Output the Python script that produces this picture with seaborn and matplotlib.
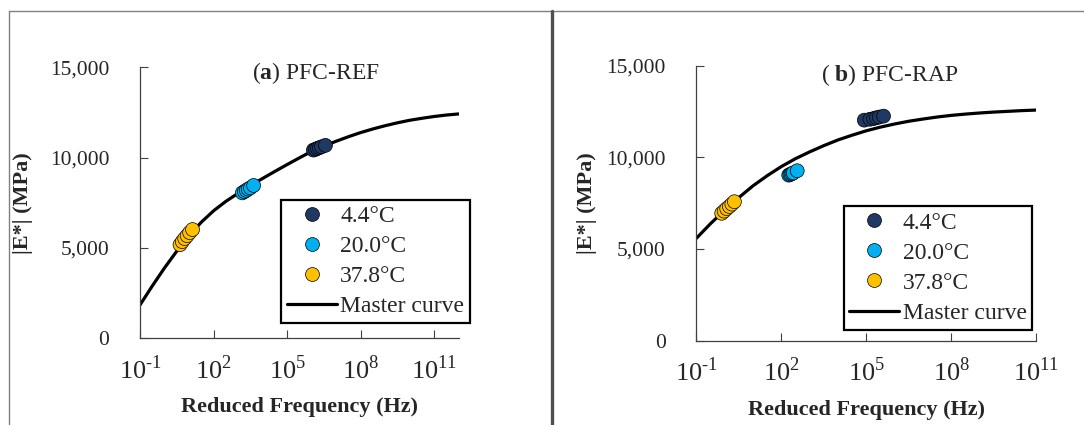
import numpy as np
import pandas as pd
import seaborn as sns
import matplotlib.pyplot as plt
from matplotlib.lines import Line2D

# data
temps = ["4.4°C", "20.0°C", "37.8°C"]
colors = ["#1F3864", "#00B0F0", "#FFC000"]

# (a) PFC-REF
a_freq_44 = [1.17e6, 1.41e6, 1.70e6, 2.04e6, 2.51e6, 3.63e6]
a_mod_44 = [10420, 10460, 10510, 10550, 10600, 10680]
a_freq_20 = [1480, 1780, 2140, 2570, 3160, 4270]
a_mod_20 = [8050, 8120, 8190, 8260, 8330, 8460]
a_freq_378 = [4.27, 5.25, 6.6, 8.3, 10.5, 13.8]
a_mod_378 = [5180, 5350, 5520, 5680, 5850, 6020]
a_curve_freq = [1e-1, 3.16e-1, 1e0, 3.16e0, 1e1, 3.16e1, 1e2, 3.16e2, 1e3, 3.16e3, 1e4, 3.16e4,
                1e5, 3.16e5, 1e6, 3.16e6, 1e7, 3.16e7, 1e8, 3.16e8, 1e9, 3.16e9, 1e10, 3.16e10,
                1e11, 3.16e11, 1e12]
a_curve_mod = [1850, 2900, 3900, 4830, 5680, 6430, 7060, 7580, 8030, 8450, 8850, 9240,
               9620, 9990, 10350, 10640, 10910, 11160, 11390, 11590, 11770, 11930, 12070, 12180,
               12280, 12360, 12420]

# (b) PFC-RAP
b_freq_44 = [8.5e4, 1.35e5, 1.82e5, 2.29e5, 2.88e5, 4.07e5]
b_mod_44 = [12030, 12080, 12120, 12160, 12200, 12250]
b_freq_20 = [182, 200, 219, 240, 263, 363]
b_mod_20 = [9030, 9060, 9090, 9120, 9150, 9270]
b_freq_378 = [0.78, 0.95, 1.17, 1.45, 1.78, 2.19]
b_mod_378 = [6950, 7070, 7200, 7320, 7450, 7580]
b_curve_freq = [1e-1, 3.16e-1, 1e0, 3.16e0, 1e1, 3.16e1, 1e2, 3.16e2, 1e3, 3.16e3, 1e4, 3.16e4,
                1e5, 3.16e5, 1e6, 3.16e6, 1e7, 3.16e7, 1e8, 3.16e8, 1e9, 3.16e9, 1e10, 3.16e10,
                1e11]
b_curve_mod = [5590, 6390, 7120, 7810, 8450, 9000, 9500, 9930, 10300, 10640, 10950, 11210,
               11450, 11650, 11820, 11970, 12090, 12200, 12290, 12360, 12420, 12470, 12510, 12550,
               12580]

xticks = [1e-1, 1e2, 1e5, 1e8, 1e11]
xticklabels = [r"10$^{\text{-}1}$", "10$^{2}$", "10$^{5}$", "10$^{8}$", "10$^{11}$"]
yticks = [0, 5000, 10000, 15000]
yticklabels = ["0", "5,000", "10,000", "15,000"]

sns.set_theme(style="ticks")
plt.rcParams["font.family"] = ["Liberation Serif", "DejaVu Serif"]
plt.rcParams["mathtext.fontset"] = "custom"
plt.rcParams["mathtext.rm"] = "Liberation Serif"
plt.rcParams["mathtext.bf"] = "Liberation Serif:bold"

fig = plt.figure(figsize=(10.84, 4.25), dpi=100)
ax_a = fig.add_axes([0.1292, 0.204, 0.2941, 0.6376])
ax_b = fig.add_axes([0.6425, 0.1984, 0.3133, 0.647])


def make_df(f44, m44, f20, m20, f378, m378):
    return pd.DataFrame({
        "freq": f44 + f20 + f378,
        "mod": m44 + m20 + m378,
        "temp": [temps[0]] * len(f44) + [temps[1]] * len(f20) + [temps[2]] * len(f378),
    })


def draw(ax, df, cfreq, cmod, xmax, title, title_xy, leg_box, ylab_x):
    sns.lineplot(x=cfreq, y=cmod, ax=ax, color="black", lw=2.3, zorder=2, label="Master curve")
    sns.scatterplot(data=df, x="freq", y="mod", hue="temp", hue_order=temps,
                    palette=colors, s=100, edgecolor="black", linewidth=0.5,
                    ax=ax, zorder=3)
    ax.set_xscale("log")
    ax.set_xlim(0.1, xmax)
    ax.set_ylim(0, 15000)
    ax.minorticks_off()
    ax.set_xticks(xticks)
    ax.set_xticklabels(xticklabels, fontsize=19)
    ax.set_yticks(yticks)
    ax.set_yticklabels(yticklabels, fontsize=15.5)
    ax.tick_params(direction="in", length=6, width=0.8, color="#404040")
    ax.tick_params(axis="x", pad=12)
    ax.tick_params(axis="y", pad=22)
    for s in ["top", "right"]:
        ax.spines[s].set_visible(False)
    for s in ["left", "bottom"]:
        ax.spines[s].set_color("#404040")
        ax.spines[s].set_linewidth(0.9)
    ax.set_xlabel("Reduced Frequency (Hz)", fontsize=16, fontweight="bold", labelpad=10)
    ax.set_ylabel("|E*| (MPa)", fontsize=16, fontweight="bold")
    ax.text(title_xy[0], title_xy[1], title, transform=ax.transAxes, ha="center", va="center",
            fontsize=17)

    h, l = ax.get_legend_handles_labels()
    order = [l.index(t) for t in temps] + [l.index("Master curve")]
    leg = ax.legend([h[i] for i in order], [l[i] for i in order], loc="lower left",
                    bbox_to_anchor=leg_box, fontsize=17, frameon=True, fancybox=False,
                    edgecolor="black", framealpha=1, handlelength=2.1, handletextpad=0.15,
                    labelspacing=0.36, borderpad=0.25, borderaxespad=0, markerscale=1.0)
    leg.get_frame().set_linewidth(1.6)
    ax.yaxis.set_label_coords(ylab_x, 0.5)


df_a = make_df(a_freq_44, a_mod_44, a_freq_20, a_mod_20, a_freq_378, a_mod_378)
df_b = make_df(b_freq_44, b_mod_44, b_freq_20, b_mod_20, b_freq_378, b_mod_378)

draw(ax_a, df_a, a_curve_freq, a_curve_mod, 1e12, r"($\mathbf{a}$) PFC-REF", (0.552, 0.979),
     (0.443, 0.055), -0.335)
draw(ax_b, df_b, b_curve_freq, b_curve_mod, 1e11, r"( $\mathbf{b}$) PFC-RAP", (0.569, 0.966),
     (0.433, 0.04), -0.294)

# panel frames
fig.add_artist(Line2D([9 / 1084, 1], [1 - 11 / 425] * 2, color="#808080", lw=1.0))
fig.add_artist(Line2D([9 / 1084] * 2, [0, 1 - 11 / 425], color="#808080", lw=1.0))
fig.add_artist(Line2D([552 / 1084] * 2, [0, 1 - 11 / 425], color="#505050", lw=2.4))

plt.savefig("out.png", dpi=100)
